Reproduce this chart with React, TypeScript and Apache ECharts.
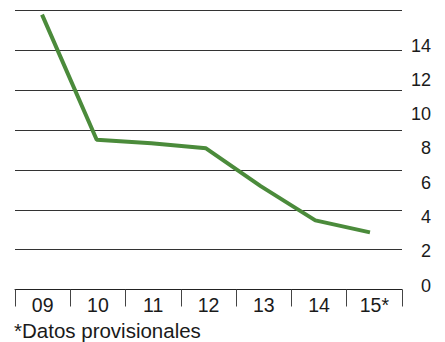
import React, { useEffect, useRef } from "react";
import * as echarts from "echarts";

const categories = ["09", "10", "11", "12", "13", "14", "15*"];
const values = [15.8, 8.5, 8.3, 8.0, 5.8, 3.8, 3.1];
const yMin = 0;
const yMax = 14;
const yStep = 2;
const footnote = "*Datos provisionales";

const FONT = "'Liberation Sans', Arial, sans-serif";
const TEXT = "#1a1a1a";

export default function App() {
  const ref = useRef<HTMLDivElement>(null);
  useEffect(() => {
    if (!ref.current) return;
    const chart = echarts.init(ref.current, null, { renderer: "svg" });
    chart.setOption({
      animation: false,
      backgroundColor: "#ffffff",
      grid: [
        { left: 15, right: 43, top: 10.5, bottom: 52.5, containLabel: false },
        { left: 14.7, right: 47.7, top: 45.5, bottom: 56.5, containLabel: false },
      ],
      xAxis: [
        {
          type: "category",
          gridIndex: 0,
          data: categories,
          boundaryGap: true,
          axisLine: { show: true, lineStyle: { color: "#222", width: 1 } },
          axisTick: { show: true, interval: 0, length: 17, lineStyle: { color: "#444", width: 1 } },
          axisLabel: { interval: 0, fontSize: 19.5, margin: 5, color: TEXT, fontFamily: FONT },
          splitLine: { show: false },
        },
        {
          type: "category",
          gridIndex: 1,
          data: categories,
          show: false,
        },
      ],
      yAxis: [
        {
          type: "value",
          gridIndex: 0,
          min: yMin,
          max: yMax,
          interval: yStep,
          axisLabel: { show: false },
          axisLine: { show: false },
          axisTick: { show: false },
          splitLine: { show: true, lineStyle: { color: "#333", width: 1 } },
        },
        {
          type: "value",
          gridIndex: 1,
          position: "right",
          min: yMin,
          max: yMax,
          interval: yStep,
          axisLabel: {
            show: true,
            align: "right",
            margin: 33.7,
            fontSize: 18,
            color: TEXT,
            fontFamily: FONT,
          },
          axisLine: { show: false },
          axisTick: { show: false },
          splitLine: { show: false },
        },
      ],
      series: [
        {
          type: "line",
          xAxisIndex: 1,
          yAxisIndex: 1,
          data: values,
          symbol: "none",
          clip: false,
          lineStyle: { color: "#4b8b3b", width: 4 },
        },
      ],
      graphic: [
        {
          type: "text",
          left: 14,
          top: 320,
          style: { text: footnote, fontSize: 20.5, lineHeight: 21, fill: TEXT, fontFamily: FONT },
        },
      ],
    });
    return () => chart.dispose();
  }, []);
  return (
    <div
      ref={ref}
      style={{ position: "absolute", left: 0, top: 0, width: 445, height: 342 }}
    />
  );
}
